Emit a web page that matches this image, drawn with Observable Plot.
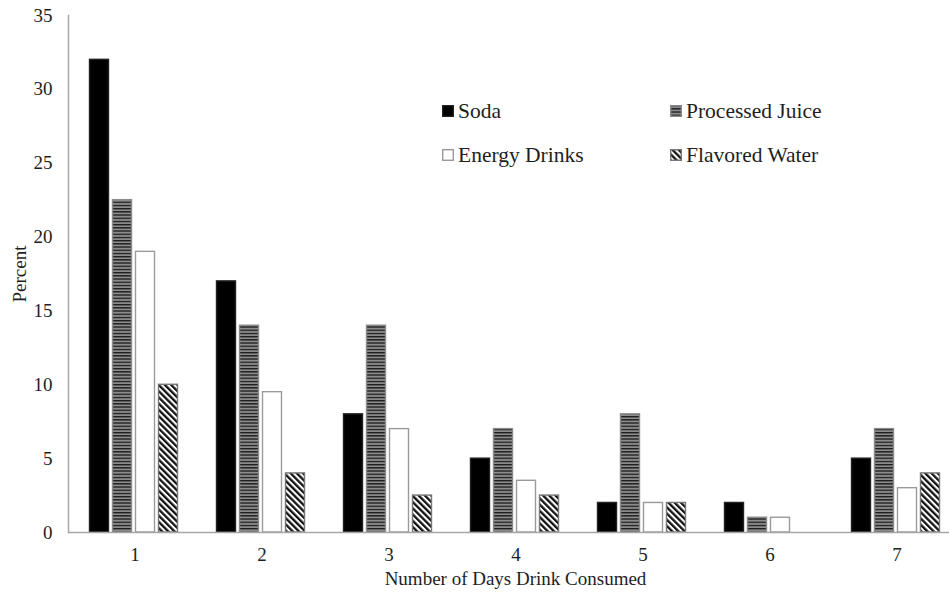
<!DOCTYPE html>
<html>
<head>
<meta charset="utf-8">
<script src="https://cdn.jsdelivr.net/npm/d3@7"></script>
<script src="https://cdn.jsdelivr.net/npm/@observablehq/plot@0.6"></script>
<style>
  html, body { margin: 0; padding: 0; background: #fff; }
  #wrap { position: relative; width: 949px; height: 592px; overflow: hidden; }
  #legend { position: absolute; left: 436px; top: 92px; }
</style>
</head>
<body>
<svg width="0" height="0" style="position:absolute">
  <defs>
    <pattern id="pjuice" patternUnits="userSpaceOnUse" width="6" height="3.2">
      <rect width="6" height="3.2" fill="#8c8c8c"/>
      <rect width="6" height="1.3" fill="#1a1a1a"/>
    </pattern>
    <pattern id="pwater" patternUnits="userSpaceOnUse" width="4.4" height="10" patternTransform="rotate(-45)">
      <rect width="4.4" height="10" fill="#ffffff"/>
      <rect width="2.3" height="10" fill="#111111"/>
    </pattern>
  </defs>
</svg>
<div id="wrap">
  <div id="chart"></div>
  <svg id="legend" width="440" height="90"></svg>
</div>
<script>
const days = ["1", "2", "3", "4", "5", "6", "7"];
const series = ["Soda", "Processed Juice", "Energy Drinks", "Flavored Water"];
const soda = [32, 17, 8, 5, 2, 2, 5];
const processedJuice = [22.5, 14, 14, 7, 8, 1, 7];
const energyDrinks = [19, 9.5, 7, 3.5, 2, 1, 3];
const flavoredWater = [10, 4, 2.5, 2.5, 2, 0, 4];
const yTicks = [0, 5, 10, 15, 20, 25, 30, 35];

const values = [soda, processedJuice, energyDrinks, flavoredWater];
const fills = ["#000000", "url(#pjuice)", "#ffffff", "url(#pwater)"];
const strokes = ["#222222", "#8a8a8a", "#9a9a9a", "#777777"];
const offsets = [-35.5, -12.5, 10.5, 33.5];

const rows = [];
series.forEach((s, i) => days.forEach((d, j) => rows.push({series: s, day: d, value: values[i][j]})));

const barMarks = series.map((s, i) =>
  Plot.barY(rows.filter(r => r.series === s && r.value > 0), {
    x: "day", y: "value", dx: offsets[i],
    fill: fills[i], stroke: strokes[i], strokeWidth: 1.4
  })
);

const chart = Plot.plot({
  width: 949,
  height: 592,
  marginLeft: 68,
  marginRight: -13,
  marginTop: 15,
  marginBottom: 60,
  style: {fontFamily: "Liberation Serif", fontSize: "19px", color: "#1e1e1e", background: "#fff"},
  x: {domain: days, paddingInner: 0.851, paddingOuter: 0.4256},
  y: {domain: [0, 35]},
  marks: [
    ...barMarks,
    Plot.frame({anchor: "left", stroke: "#a6a6a6", strokeWidth: 1.5}),
    Plot.ruleY([0], {stroke: "#a6a6a6", strokeWidth: 1.5}),
    Plot.axisY({ticks: yTicks, tickSize: 0, tickPadding: 16, label: "Percent",
      labelAnchor: "center", labelArrow: "none", labelOffset: 56, fontSize: 19}),
    Plot.axisX({tickSize: 0, tickPadding: 15, label: "Number of Days Drink Consumed",
      labelAnchor: "center", labelArrow: "none", labelOffset: 52, fontSize: 19})
  ]
});
document.getElementById("chart").appendChild(chart);

// Legend: 2 x 2 grid of swatches and labels
const lg = d3.select("#legend");
const colW = 228, rowH = 44;
series.forEach((s, i) => {
  const g = lg.append("g")
    .attr("transform", `translate(${6 + (i % 2) * colW},${13 + Math.floor(i / 2) * rowH})`);
  g.append("rect").attr("x", 0.7).attr("y", 0.7).attr("width", 10.6).attr("height", 10.6)
    .attr("fill", fills[i]).attr("stroke", strokes[i]).attr("stroke-width", 1.4);
  g.append("text").attr("x", 16).attr("y", 12.5)
    .attr("font-family", "Liberation Serif").attr("font-size", 21.5).attr("fill", "#1e1e1e")
    .text(s);
});
</script>
</body>
</html>
